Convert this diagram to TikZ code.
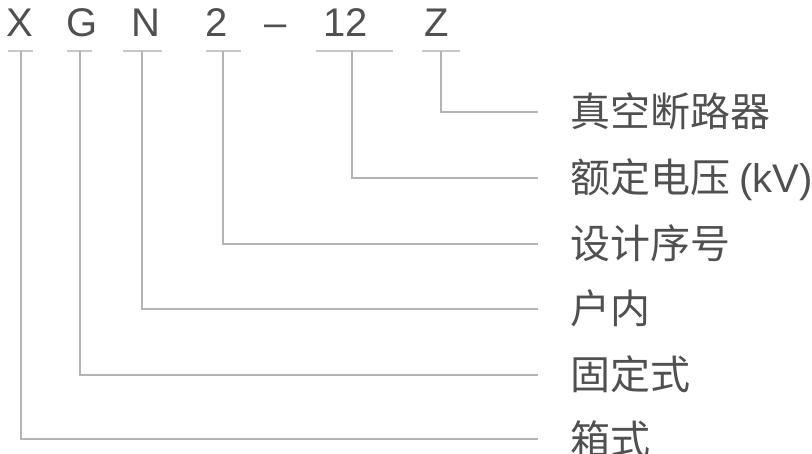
\documentclass[tikz,border=0pt]{standalone}
\usepackage{fontspec}
\setmainfont{Liberation Sans}
\newfontfamily\cjk{Noto Sans CJK SC}
\definecolor{txt}{HTML}{505050}
\definecolor{ln}{HTML}{B4B4B4}
\definecolor{bar}{HTML}{C8C8C8}
\begin{document}
\begin{tikzpicture}[x=1pt,y=-1pt,
  letter/.style={anchor=base,inner sep=0pt,text=txt,font=\fontsize{40}{44}\selectfont},
  lab/.style={anchor=west,inner sep=0pt,text=txt,text height=32pt,text depth=2pt,font=\cjk\fontsize{40}{44}\selectfont},
  conn/.style={draw=ln,line width=1.6pt},
  barline/.style={draw=bar,line width=1.6pt}]
\useasboundingbox (0,0) rectangle (812,454);
% top code letters
\node[letter] (X) at (20,37) {X};
\node[letter] (G) at (82,37) {G};
\node[letter] (N) at (146,37) {N};
\node[letter] (D) at (217,37) {2};
\node[letter] (H) at (276,37) {\char"2013};
\node[letter] (V) at (346,37) {12};
\node[letter] (Z) at (437,37) {Z};
% bars under letters
\draw[barline] (8,51) -- (33,51);
\draw[barline] (67,51) -- (92,51);
\draw[barline] (123,51) -- (162,51);
\draw[barline] (206,51) -- (241,51);
\draw[barline] (316,51) -- (393,51);
\draw[barline] (422,51) -- (460,51);
\coordinate (bX) at (21,51);
\coordinate (bG) at (80,51);
\coordinate (bN) at (142,51);
\coordinate (bD) at (223,51);
\coordinate (bV) at (352,51);
\coordinate (bZ) at (441,51);
% labels
\node[lab] (lZ) at (570,112) {真空断路器};
\node[lab] (lV) at (570,178) {额定电压 {\fontspec{Liberation Sans}(kV)}};
\node[lab] (lD) at (570,244) {设计序号};
\node[lab] (lN) at (570,309) {户内};
\node[lab] (lG) at (570,375) {固定式};
\node[lab] (lX) at (570,439) {箱式};
% connectors
\draw[conn] (bZ) |- ([xshift=-32pt]lZ.west);
\draw[conn] (bV) |- ([xshift=-32pt]lV.west);
\draw[conn] (bD) |- ([xshift=-32pt]lD.west);
\draw[conn] (bN) |- ([xshift=-32pt]lN.west);
\draw[conn] (bG) |- ([xshift=-32pt]lG.west);
\draw[conn] (bX) |- ([xshift=-32pt]lX.west);
\end{tikzpicture}
\end{document}
